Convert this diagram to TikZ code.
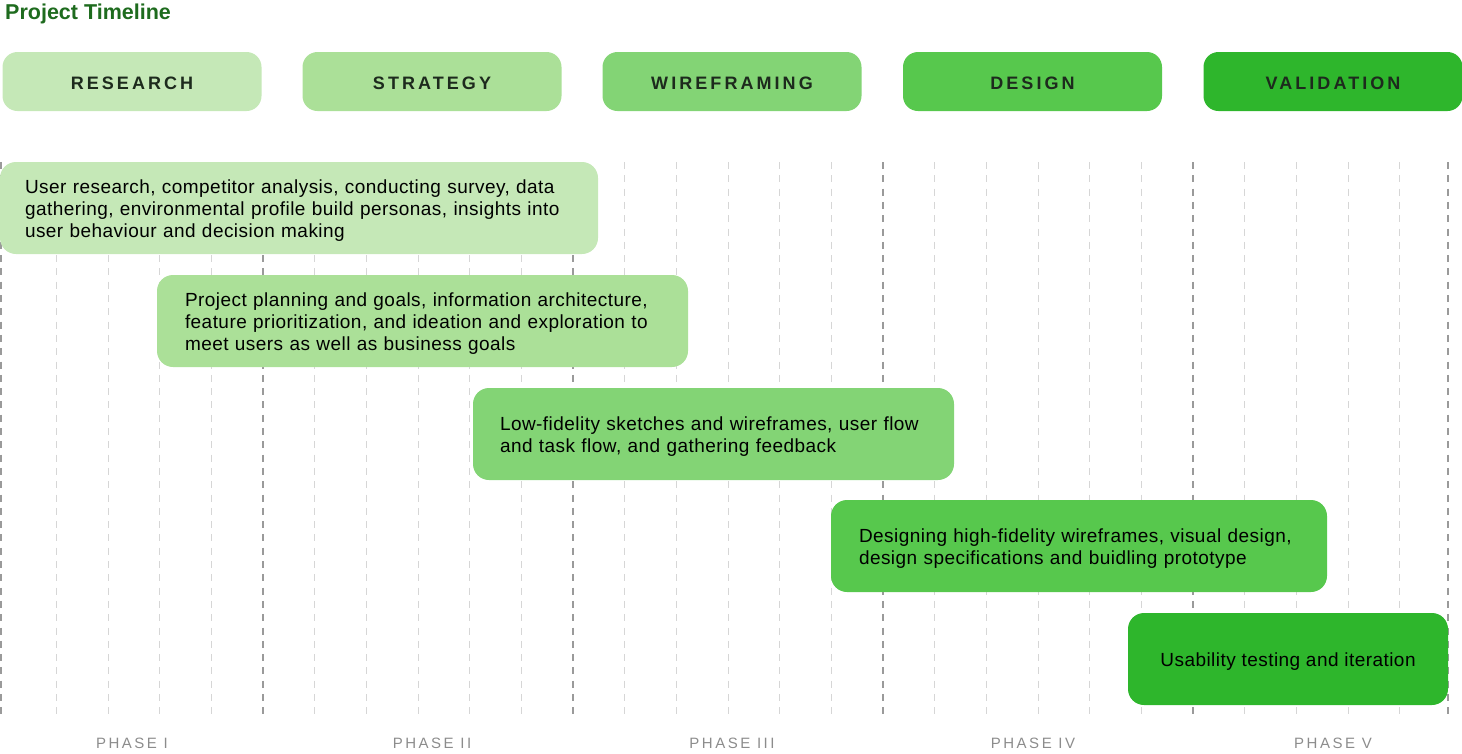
\documentclass[tikz,border=0pt]{standalone}
\usepackage{fontspec}
\setmainfont{Liberation Sans}
\newfontfamily\bodyfont[LetterSpace=2.4]{Liberation Sans}
\newfontfamily\hdrfont[LetterSpace=17]{Liberation Sans}
\newfontfamily\phfont[LetterSpace=16.7]{Liberation Sans}
\definecolor{cA}{HTML}{C5E8B7}
\definecolor{cB}{HTML}{ABE098}
\definecolor{cC}{HTML}{83D475}
\definecolor{cD}{HTML}{57C84D}
\definecolor{cE}{HTML}{2EB62C}
\definecolor{titlegreen}{HTML}{1E6B1E}
\definecolor{hdrtext}{HTML}{1D2A1D}
\definecolor{gridlight}{HTML}{D6D6D6}
\definecolor{griddark}{HTML}{9A9A9A}
\definecolor{phasegray}{HTML}{8C8C8C}
\newcommand{\lowerstrut}{\rule{0pt}{18pt}}
\tikzset{
  hdrbox/.style={rounded corners=15pt, minimum width=259pt, minimum height=59pt,
    inner sep=0pt, text height=16pt, text depth=0pt, text=hdrtext,
    font=\hdrfont\bfseries\fontsize{18}{20}\selectfont},
  taskbox/.style={rounded corners=16pt, minimum height=92pt, inner ysep=0pt,
    align=left, text=black, font=\bodyfont\fontsize{19}{22}\selectfont},
  phaselbl/.style={text=phasegray, inner sep=0pt, font=\phfont\fontsize{15}{17}\selectfont},
  gridl/.style={draw=gridlight, line width=1pt, dash pattern=on 7pt off 6.3pt},
  gridd/.style={draw=griddark, line width=1.2pt, dash pattern=on 7pt off 6.3pt}
}
\begin{document}
\begin{tikzpicture}[x=1pt,y=-1pt]
\useasboundingbox (0,0) rectangle (1462,753);
% grid
\foreach \k in {-4,-3,-2,-1,1,2,3,4,5,7,8,9,10,11,13,14,15,16,17,19,20,21,22}
  \draw[gridl] ({263+51.667*\k},162) -- ({263+51.667*\k},718);
\foreach \xx in {1,263,573,883,1193,1448}
  \draw[gridd] (\xx,162) -- (\xx,718);
% title
\node[anchor=west, inner sep=0pt, text=titlegreen, font=\bfseries\fontsize{21.5}{24}\selectfont] (title) at (5,14) {Project Timeline};
% headers
\node[hdrbox, fill=cA] (h1) at (132,81.5) {RESEARCH};
\node[hdrbox, fill=cB] (h2) at (432,81.5) {STRATEGY};
\node[hdrbox, fill=cC] (h3) at (732,81.5) {WIREFRAMING};
\node[hdrbox, fill=cD] (h4) at (1032.5,81.5) {DESIGN};
\node[hdrbox, fill=cE] (h5) at (1333,81.5) {VALIDATION};
% tasks
\node[taskbox, fill=cA, minimum width=598pt, inner xsep=25pt, text width=548pt] (t1) at (299,208)
  {\lowerstrut User research, competitor analysis, conducting survey, data\\gathering, environmental profile build personas, insights into\\user behaviour and decision making};
\node[taskbox, fill=cB, minimum width=531pt, inner xsep=28pt, text width=475pt] (t2) at (422.5,321)
  {\lowerstrut Project planning and goals, information architecture,\\feature prioritization, and ideation and exploration to\\meet users as well as business goals};
\node[taskbox, fill=cC, minimum width=481pt, inner xsep=27pt, text width=427pt] (t3) at (713.5,434)
  {\lowerstrut Low-fidelity sketches and wireframes, user flow\\and task flow, and gathering feedback};
\node[taskbox, fill=cD, minimum width=496pt, inner xsep=28pt, text width=440pt] (t4) at (1079,546)
  {\lowerstrut Designing high-fidelity wireframes, visual design,\\design specifications and buidling prototype};
\node[taskbox, fill=cE, minimum width=320pt, inner xsep=10pt, align=center] (t5) at (1288,659)
  {\lowerstrut Usability testing and iteration};
% phases
\node[phaselbl] (p1) at (132,743) {PHASE I};
\node[phaselbl] (p2) at (432,743) {PHASE II};
\node[phaselbl] (p3) at (732,743) {PHASE III};
\node[phaselbl] (p4) at (1033,743) {PHASE IV};
\node[phaselbl] (p5) at (1333,743) {PHASE V};
\end{tikzpicture}
\end{document}
